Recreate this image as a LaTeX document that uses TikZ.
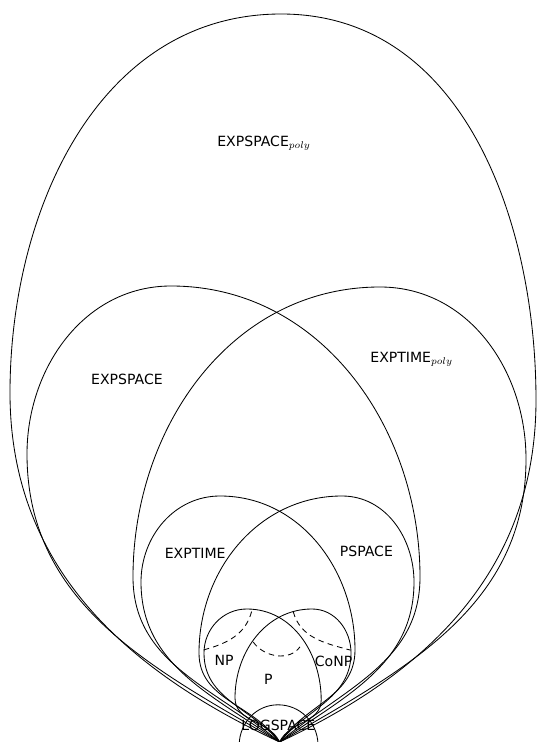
\documentclass[tikz,border=0pt]{standalone}
\usepackage{fontspec}
\setmainfont{DejaVu Sans}
\tikzset{
	egg/.style={draw, line width=0.6pt},
	hardpart/.style={line width=0.6pt, dash pattern=on 4pt off 3pt},
	classname/.style={inner sep=1pt}
}

\begin{document}
\begin{tikzpicture}[font=\normalsize]
	\useasboundingbox (0,0) rectangle (13.425,18.55);
	\coordinate (B) at (6.99,0);
	% outer classes
	\path[egg] (B) to[out=155,in=-90] (0.25,8.73) to[out=90,in=180] (7.03,18.2)
		to[out=0,in=90] (13.40,8.55) to[out=-90,in=25] (B);
	\path[egg] (B) to[out=150,in=-90] (0.675,7.2) to[out=90,in=180] (4.275,11.4)
		to[out=0,in=90] (10.5,4.125) to[out=-90,in=40] (B);
	\path[egg] (B) to[out=140,in=-90] (3.325,4.125) to[out=90,in=180] (9.5,11.375)
		to[out=0,in=90] (13.15,7.075) to[out=-90,in=30] (B);
	% middle classes
	\path[egg] (B) to[out=145,in=-90] (3.525,4.0) to[out=90,in=180] (5.5,6.15)
		to[out=0,in=90] (8.875,2.3) to[out=-90,in=55] (B);
	\path[egg] (B) to[out=125,in=-90] (4.975,2.225) to[out=90,in=180] (8.55,6.15)
		to[out=0,in=90] (10.35,4.0) to[out=-90,in=35] (B);
	% NP and CoNP
	\path[egg] (B) to[out=130,in=-90] (5.1,2.225) to[out=90,in=180] (6.17,3.325)
		to[out=0,in=90] (8.03,1.05) to[out=-90,in=65] (B);
	\path[egg] (B) to[out=115,in=-90] (5.875,1.1) to[out=90,in=180] (7.8,3.325)
		to[out=0,in=90] (8.775,2.225) to[out=-90,in=50] (B);
	\path[egg] (5.98,-0.05) to[out=88,in=180] (6.95,0.93) to[out=0,in=92] (7.95,-0.05);
	\draw[hardpart] (6.29,3.26) to[out=-105,in=15] (5.08,2.3);
	\draw[hardpart] (7.33,3.26) to[out=-75,in=165] (8.75,2.3);
	\draw[hardpart] (6.33,2.5) to[out=-55,in=-125] (7.5,2.38);
	% labels
	\node[classname] (expspacepoly) at (6.6,14.97) {EXPSPACE$_{poly}$};
	\node[classname] (exptimepoly) at (10.29,9.56) {EXPTIME$_{poly}$};
	\node[classname] (expspace) at (3.175,9.075) {EXPSPACE};
	\node[classname] (exptime) at (4.88,4.71) {EXPTIME};
	\node[classname] (pspace) at (9.16,4.77) {PSPACE};
	\node[classname] (np) at (5.6,2.05) {NP};
	\node[classname] (conp) at (8.34,2.01) {CoNP};
	\node[classname] (p) at (6.71,1.57) {P};
	\node[classname] (logspace) at (6.96,0.425) {LOGSPACE};
\end{tikzpicture}
\end{document}
